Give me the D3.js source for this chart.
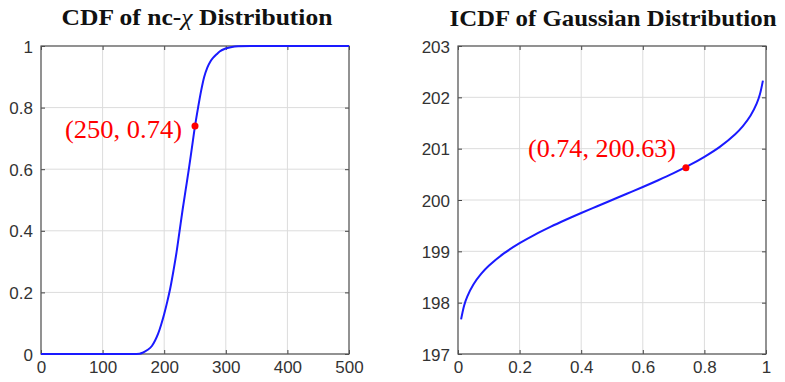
<!DOCTYPE html>
<html><head><meta charset="utf-8">
<script src="https://cdn.jsdelivr.net/npm/d3@7"></script>
<style>body{margin:0;background:#fff}svg{display:block}</style>
</head><body>
<svg id="c" width="785" height="382"></svg>
<script>
// ---- data ----
const cdfX = [0, 100, 150, 160, 165, 172, 180, 185, 190, 195, 200, 205, 210, 215, 220, 225, 230, 235, 240, 245, 250, 255, 260, 265, 270, 275, 280, 285, 290, 300, 310, 320, 340, 400, 500];
const cdfY = [0, 0, 0, 0.001, 0.004, 0.012, 0.026, 0.043, 0.065, 0.095, 0.13, 0.17, 0.215, 0.27, 0.33, 0.40, 0.47, 0.535, 0.60, 0.67, 0.74, 0.80, 0.855, 0.90, 0.93, 0.95, 0.963, 0.973, 0.982, 0.992, 0.997, 0.999, 1, 1, 1];
const icdfX = [0.01, 0.02, 0.03, 0.05, 0.075, 0.1, 0.15, 0.2, 0.25, 0.3, 0.35, 0.4, 0.45, 0.5, 0.55, 0.6, 0.65, 0.7, 0.75, 0.8, 0.85, 0.9, 0.925, 0.95, 0.97, 0.98, 0.99];
const icdfY = [197.674, 197.946, 198.119, 198.355, 198.560, 198.718, 198.964, 199.158, 199.326, 199.476, 199.615, 199.747, 199.874, 200.000, 200.126, 200.253, 200.385, 200.524, 200.674, 200.842, 201.036, 201.282, 201.440, 201.645, 201.881, 202.054, 202.326];
const cdfXTicks = [0, 100, 200, 300, 400, 500];
const cdfYTicks = [0, 0.2, 0.4, 0.6, 0.8, 1];
const cdfYLabels = ["0", "0.2", "0.4", "0.6", "0.8", "1"];
const icdfXTicks = [0, 0.2, 0.4, 0.6, 0.8, 1];
const icdfXLabels = ["0", "0.2", "0.4", "0.6", "0.8", "1"];
const icdfYTicks = [197, 198, 199, 200, 201, 202, 203];
const cdfPoint = [250, 0.74];
const icdfPoint = [0.74, 200.63];
const cdfLabel = "(250, 0.74)";
const icdfLabel = "(0.74, 200.63)";

const svg = d3.select("#c");
const plotTop = 46, plotBottom = 354;

function panel(o) {
  const x = d3.scaleLinear().domain(o.xd).range([o.x0, o.x1]);
  const y = d3.scaleLinear().domain(o.yd).range([plotBottom, plotTop]);
  const g = svg.append("g");
  // grid
  g.selectAll(".gx").data(o.xt).join("line")
    .attr("x1", d => x(d)).attr("x2", d => x(d)).attr("y1", plotTop).attr("y2", plotBottom)
    .attr("stroke", "#dcdcdc").attr("stroke-width", 1);
  g.selectAll(".gy").data(o.yt).join("line")
    .attr("y1", d => y(d)).attr("y2", d => y(d)).attr("x1", o.x0).attr("x2", o.x1)
    .attr("stroke", "#dcdcdc").attr("stroke-width", 1);
  // axes with inner ticks
  const ax = d3.axisBottom(x).tickValues(o.xt).tickSize(-4).tickPadding(7).tickFormat((d, i) => o.xl[i]);
  const ay = d3.axisLeft(y).tickValues(o.yt).tickSize(-4).tickPadding(8).tickFormat((d, i) => o.yl[i]);
  const gx = g.append("g").attr("transform", `translate(0,${plotBottom})`).call(ax);
  const gy = g.append("g").attr("transform", `translate(${o.x0},0)`).call(ay);
  const gxt = g.append("g").attr("transform", `translate(0,${plotTop})`).call(d3.axisTop(x).tickValues(o.xt).tickSize(-4).tickFormat(""));
  const gyr = g.append("g").attr("transform", `translate(${o.x1},0)`).call(d3.axisRight(y).tickValues(o.yt).tickSize(-4).tickFormat(""));
  [gx, gy, gxt, gyr].forEach(a => {
    a.select(".domain").remove();
    a.selectAll(".tick line").attr("stroke", "#444");
    a.selectAll("text").attr("font-family", "Liberation Sans, Arial, sans-serif").attr("font-size", 17).attr("fill", "#333");
  });
  gy.selectAll("text").attr("dy", "0.36em");
  // frame
  g.append("rect").attr("x", o.x0).attr("y", plotTop).attr("width", o.x1 - o.x0).attr("height", plotBottom - plotTop)
    .attr("fill", "none").attr("stroke", "#555").attr("stroke-width", 1.2);
  // curve
  const line = d3.line().x(d => x(d[0])).y(d => y(d[1])).curve(o.curve);
  g.append("path").datum(d3.zip(o.dx, o.dy)).attr("d", line)
    .attr("fill", "none").attr("stroke", "#1a1aff").attr("stroke-width", 2);
  // point
  g.append("circle").attr("cx", x(o.pt[0])).attr("cy", y(o.pt[1])).attr("r", 3.5).attr("fill", "#ff0000");
  g.append("text").attr("x", o.lx).attr("y", o.ly).attr("text-anchor", "end")
    .attr("font-family", "Liberation Serif, Times New Roman, serif").attr("font-size", 25).attr("fill", "#ff0000")
    .attr("textLength", o.lw).attr("lengthAdjust", "spacingAndGlyphs").text(o.label);
  // title
  const t = g.append("text").attr("x", o.tx).attr("y", o.ty).attr("text-anchor", "middle")
    .attr("font-family", "Liberation Serif, Times New Roman, serif").attr("font-weight", "bold").attr("font-size", 23).attr("fill", "#111")
    .attr("textLength", o.tw).attr("lengthAdjust", "spacingAndGlyphs");
  o.title.forEach(p => t.append("tspan").attr("font-style", p[1] ? "italic" : "normal").attr("font-weight", p[1] ? "normal" : "bold").text(p[0]));
}

panel({ x0: 41, x1: 349, xd: [0, 500], yd: [0, 1], xt: cdfXTicks, xl: cdfXTicks.map(String), yt: cdfYTicks, yl: cdfYLabels,
  dx: cdfX, dy: cdfY, pt: cdfPoint, label: cdfLabel, lx: 182, ly: 138, lw: 117, curve: d3.curveMonotoneX,
  title: [["CDF of nc-", false], ["χ", true], [" Distribution", false]], tx: 197, ty: 25, tw: 271 });
panel({ x0: 458, x1: 766, xd: [0, 1], yd: [197, 203], xt: icdfXTicks, xl: icdfXLabels, yt: icdfYTicks, yl: icdfYTicks.map(String),
  dx: icdfX, dy: icdfY, pt: icdfPoint, label: icdfLabel, lx: 676, ly: 157, lw: 148, curve: d3.curveCatmullRom.alpha(0.5),
  title: [["ICDF of Gaussian Distribution", false]], tx: 613, ty: 26, tw: 327 });
</script>
</body></html>
